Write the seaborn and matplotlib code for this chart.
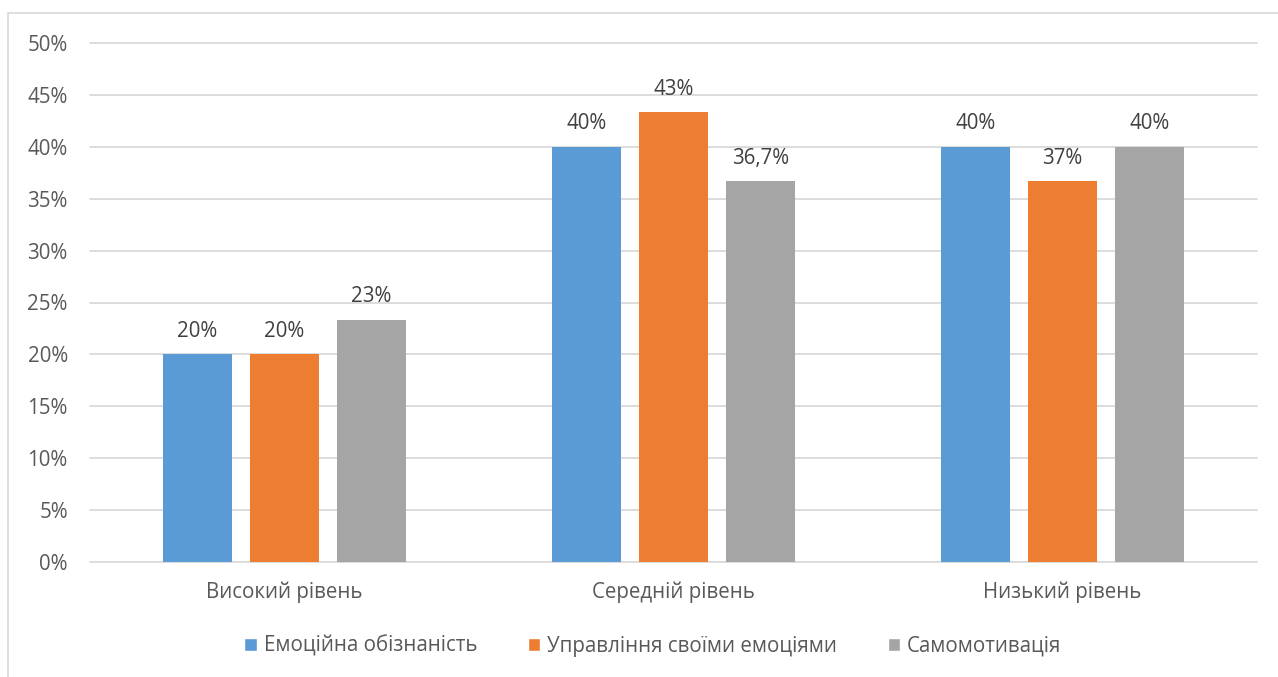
import matplotlib
matplotlib.use("Agg")
import matplotlib.pyplot as plt
from matplotlib.patches import Rectangle
import seaborn as sns
import pandas as pd

# Levels and component scores (percent of respondents)
levels = ["Високий рівень", "Середній рівень", "Низький рівень"]
series_names = ["Емоційна обізнаність", "Управління своїми емоціями", "Самомотивація"]
awareness = [20.0, 40.0, 40.0]
self_control = [20.0, 43.33, 36.67]
motivation = [23.33, 36.67, 40.0]
# decimals shown in each series' value labels, per level
label_decimals = [[0, 0, 0], [0, 0, 0], [0, 1, 0]]
y_ticks = [0, 5, 10, 15, 20, 25, 30, 35, 40, 45, 50]
colors = ["#5b9bd5", "#ed7d31", "#a5a5a5"]

rows = []
for name, vals in zip(series_names, [awareness, self_control, motivation]):
    for lvl, v in zip(levels, vals):
        rows.append({"level": lvl, "series": name, "value": v})
df = pd.DataFrame(rows)

sns.set_theme(style="white")
plt.rcParams["font.family"] = ["Open Sans", "DejaVu Sans"]

W, H = 1278, 677
FS = 14.8
fig = plt.figure(figsize=(W / 100, H / 100), dpi=100)
fig.patch.set_facecolor("white")

# outer chart-area border (left and top edges visible)
fig.patches.append(Rectangle((8 / W, -0.5), 2.0, 1 - 13 / H + 0.5, transform=fig.transFigure,
                             fill=False, edgecolor="#d9d9d9", linewidth=1.2, zorder=0))

ax = fig.add_axes([90 / W, (H - 562) / H, (1257 - 90) / W, (562 - 43) / H])
sns.barplot(data=df, x="level", y="value", hue="series", order=levels,
            hue_order=series_names, palette=colors, width=0.67, gap=0.21,
            saturation=1, linewidth=0, ax=ax, legend=False, zorder=3)

ax.set_xlim(-0.5, 2.5)
ax.set_ylim(0, 50)
ax.set_yticks(y_ticks)
ax.set_yticklabels([f"{t}%" for t in y_ticks])
ax.set_xlabel("")
ax.set_ylabel("")
for s in ax.spines.values():
    s.set_visible(False)
ax.grid(False)
for y in y_ticks:
    ax.axhline(y, color="#d9d9d9", linewidth=1.3, zorder=1, clip_on=False)
ax.tick_params(axis="y", length=0, pad=16, labelsize=FS, labelcolor="#595959")
ax.tick_params(axis="x", length=0, pad=14, labelsize=FS, labelcolor="#595959")

# value labels above each bar
for container, decs in zip(ax.containers, label_decimals):
    for bar, d in zip(container, decs):
        v = bar.get_height()
        txt = f"{v:.{d}f}".replace(".", ",") + "%"
        ax.annotate(txt, (bar.get_x() + bar.get_width() / 2, v), xytext=(0, 9),
                    textcoords="offset points", ha="center", va="bottom",
                    fontsize=FS, color="#404040")

handles = [Rectangle((0, 0), 1, 1, facecolor=c) for c in colors]
fig.legend(handles, series_names, loc="center", bbox_to_anchor=(653 / W, 1 - 646 / H),
           ncol=3, frameon=False, fontsize=FS, labelcolor="#595959",
           handlelength=0.6, handleheight=0.6, handletextpad=0.35, columnspacing=2.45)

fig.savefig("out.png", dpi=100, facecolor="white")
